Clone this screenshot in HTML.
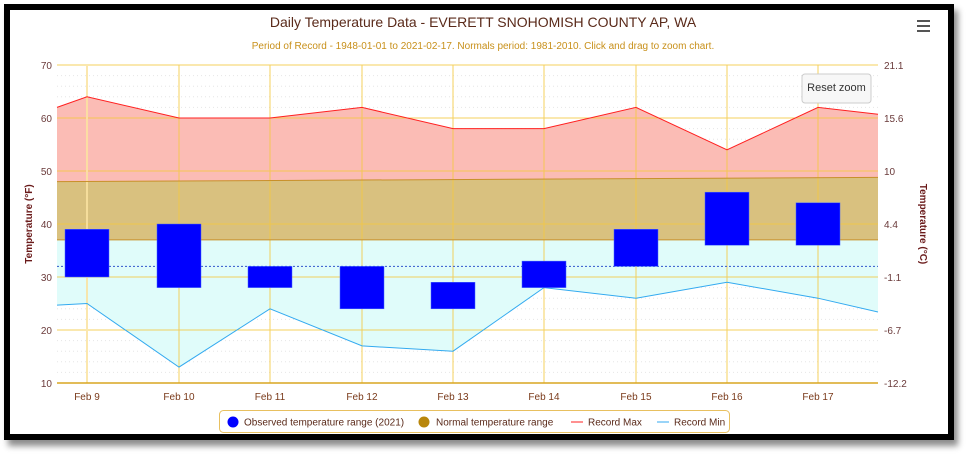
<!DOCTYPE html>
<html><head><meta charset="utf-8"><style>
html,body{margin:0;padding:0;background:#fff;}
body{width:966px;height:454px;position:relative;overflow:hidden;font-family:"Liberation Sans","DejaVu Sans",sans-serif;}
.frame{position:absolute;left:4px;top:4px;width:944px;height:430px;border:6px solid #000;box-sizing:border-box;box-shadow:4px 6px 6px rgba(0,0,0,0.45);background:#fff;width:950px;height:436px;}
svg{position:absolute;left:0;top:0;}
</style></head><body>
<div class="frame"></div>
<svg width="966" height="454" viewBox="0 0 966 454" font-family="Liberation Sans, DejaVu Sans, sans-serif">
<text x="483" y="27" text-anchor="middle" font-size="14" fill="#5a2a1a">Daily Temperature Data - EVERETT SNOHOMISH COUNTY AP, WA</text>
<text x="483" y="49" text-anchor="middle" font-size="10" fill="#c8901a">Period of Record - 1948-01-01 to 2021-02-17. Normals period: 1981-2010. Click and drag to zoom chart.</text>
<g fill="#555"><rect x="917" y="20" width="13" height="2"/><rect x="917" y="25" width="13" height="2"/><rect x="917" y="30" width="13" height="2"/></g>
<!-- minor grid -->
<g stroke="#e6e6e6" stroke-dasharray="1,3">
<line x1="57" x2="878" y1="75.6" y2="75.6"/><line x1="57" x2="878" y1="86.2" y2="86.2"/><line x1="57" x2="878" y1="96.8" y2="96.8"/><line x1="57" x2="878" y1="107.4" y2="107.4"/>
<line x1="57" x2="878" y1="128.6" y2="128.6"/><line x1="57" x2="878" y1="139.2" y2="139.2"/><line x1="57" x2="878" y1="149.8" y2="149.8"/><line x1="57" x2="878" y1="160.4" y2="160.4"/>
<line x1="57" x2="878" y1="181.6" y2="181.6"/><line x1="57" x2="878" y1="192.2" y2="192.2"/><line x1="57" x2="878" y1="202.8" y2="202.8"/><line x1="57" x2="878" y1="213.4" y2="213.4"/>
<line x1="57" x2="878" y1="234.6" y2="234.6"/><line x1="57" x2="878" y1="245.2" y2="245.2"/><line x1="57" x2="878" y1="255.8" y2="255.8"/><line x1="57" x2="878" y1="266.4" y2="266.4"/>
<line x1="57" x2="878" y1="287.6" y2="287.6"/><line x1="57" x2="878" y1="298.2" y2="298.2"/><line x1="57" x2="878" y1="308.8" y2="308.8"/><line x1="57" x2="878" y1="319.4" y2="319.4"/>
<line x1="57" x2="878" y1="340.6" y2="340.6"/><line x1="57" x2="878" y1="351.2" y2="351.2"/><line x1="57" x2="878" y1="361.8" y2="361.8"/><line x1="57" x2="878" y1="372.4" y2="372.4"/>
</g>
<!-- areas -->
<polygon fill="#fbbcb5" points="57,107.4 87,96.8 179,118 270,118 362,107.4 453,128.6 544,128.6 636,107.4 727,149.8 818,107.4 878,114.3 878,240 57,240"/>
<polygon fill="#d9c17f" points="57,181.6 878,177.4 878,239.9 57,239.9"/>
<polygon fill="#e0fcfa" points="57,239.9 878,239.9 878,312 818,298.2 727,282.3 636,298.2 544,287.6 453,351.2 362,345.9 270,308.8 179,367.1 87,303.5 57,305.1"/>
<!-- major grid -->
<g stroke="#f5c842" stroke-width="1" opacity="0.85">
<line x1="57" x2="878" y1="65" y2="65"/><line x1="57" x2="878" y1="118" y2="118"/><line x1="57" x2="878" y1="171" y2="171"/><line x1="57" x2="878" y1="224" y2="224"/><line x1="57" x2="878" y1="277" y2="277"/><line x1="57" x2="878" y1="330" y2="330"/>
<line x1="87" x2="87" y1="65" y2="383" stroke="#fbe3a0" stroke-width="2"/>
<line x1="179" x2="179" y1="65" y2="383"/><line x1="270" x2="270" y1="65" y2="383"/><line x1="362" x2="362" y1="65" y2="383"/><line x1="453" x2="453" y1="65" y2="383"/><line x1="544" x2="544" y1="65" y2="383"/><line x1="636" x2="636" y1="65" y2="383"/><line x1="727" x2="727" y1="65" y2="383"/><line x1="818" x2="818" y1="65" y2="383"/>
</g>
<line x1="57" x2="878" y1="383" y2="383" stroke="#d9a520" stroke-width="1.5"/>
<line x1="57" x2="878" y1="181.6" y2="177.4" stroke="#c8902a"/>
<line x1="57" x2="878" y1="239.9" y2="239.9" stroke="#c8902a"/>
<line x1="57" x2="878" y1="266.4" y2="266.4" stroke="#3355cc" stroke-dasharray="2,2"/>
<polyline fill="none" stroke="#ff2020" points="57,107.4 87,96.8 179,118 270,118 362,107.4 453,128.6 544,128.6 636,107.4 727,149.8 818,107.4 878,114.3"/>
<polyline fill="none" stroke="#33aaf0" points="57,305.1 87,303.5 179,367.1 270,308.8 362,345.9 453,351.2 544,287.6 636,298.2 727,282.3 818,298.2 878,312"/>
<!-- bars -->
<g fill="#0000ff" stroke="#4466ff" stroke-width="0.5">
<rect x="65" y="229.3" width="44" height="47.7"/>
<rect x="157" y="224" width="44" height="63.6"/>
<rect x="248" y="266.4" width="44" height="21.2"/>
<rect x="340" y="266.4" width="44" height="42.4"/>
<rect x="431" y="282.3" width="44" height="26.5"/>
<rect x="522" y="261.1" width="44" height="26.5"/>
<rect x="614" y="229.3" width="44" height="37.1"/>
<rect x="705" y="192.2" width="44" height="53"/>
<rect x="796" y="202.8" width="44" height="42.4"/>
</g>
<!-- axis labels -->
<g font-size="10" fill="#6a3a3a" text-anchor="end">
<text x="52" y="69">70</text><text x="52" y="122">60</text><text x="52" y="175">50</text><text x="52" y="228">40</text><text x="52" y="281">30</text><text x="52" y="334">20</text><text x="52" y="387">10</text>
</g>
<g font-size="10" fill="#6a3a3a">
<text x="884" y="69">21.1</text><text x="884" y="122">15.6</text><text x="884" y="175">10</text><text x="884" y="228">4.4</text><text x="884" y="281">-1.1</text><text x="884" y="334">-6.7</text><text x="884" y="387">-12.2</text>
</g>
<g font-size="10" fill="#7a3a1a" text-anchor="middle">
<text x="87" y="400">Feb 9</text><text x="179" y="400">Feb 10</text><text x="270" y="400">Feb 11</text><text x="362" y="400">Feb 12</text><text x="453" y="400">Feb 13</text><text x="544" y="400">Feb 14</text><text x="636" y="400">Feb 15</text><text x="727" y="400">Feb 16</text><text x="818" y="400">Feb 17</text>
</g>
<text transform="translate(32,224) rotate(-90)" text-anchor="middle" font-size="10" font-weight="bold" fill="#6a1a1a">Temperature (°F)</text>
<text transform="translate(920,224) rotate(90)" text-anchor="middle" font-size="10" font-weight="bold" fill="#6a1a1a">Temperature (°C)</text>
<!-- reset zoom -->
<rect x="802" y="74" width="69" height="29" rx="3" fill="#f7f7f7" stroke="#ccc"/>
<text x="836.5" y="91" text-anchor="middle" font-size="11" fill="#333">Reset zoom</text>
<!-- legend -->
<rect x="219.5" y="410.5" width="510" height="22" rx="4" fill="#fff" stroke="#e8c060"/>
<circle cx="233" cy="422" r="5.5" fill="#0000ff"/>
<text x="244" y="425.5" font-size="10" fill="#5a2a1a">Observed temperature range (2021)</text>
<circle cx="424" cy="422" r="5.5" fill="#b8860b"/>
<text x="436" y="425.5" font-size="10" fill="#5a2a1a">Normal temperature range</text>
<line x1="571" x2="583" y1="422" y2="422" stroke="#ff2020"/>
<text x="588" y="425.5" font-size="10" fill="#5a2a1a">Record Max</text>
<line x1="657" x2="669" y1="422" y2="422" stroke="#33aaf0"/>
<text x="674" y="425.5" font-size="10" fill="#5a2a1a">Record Min</text>
</svg>
</body></html>
